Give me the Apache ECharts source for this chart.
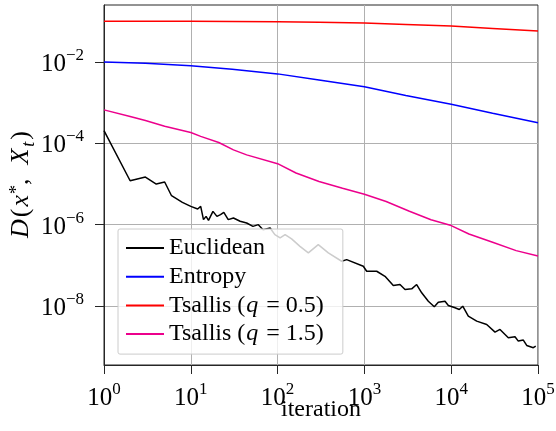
<!DOCTYPE html>
<html><head><meta charset="utf-8">
<script src="https://cdn.jsdelivr.net/npm/echarts@6/dist/echarts.min.js"></script>
<style>html,body{margin:0;padding:0;background:#fff}#c{width:556px;height:431px}</style>
</head><body><div id="c"></div>
<script>
const seriesNames = ['Euclidean', 'Entropy', 'Tsallis (q = 0.5)', 'Tsallis (q = 1.5)'];
const seriesColors = ['#000000', '#0000ff', '#ff0000', '#ec008c'];

const euclidIter = [1,2,3,4,5,6,8,10,12,13,14,15,16,18,20,22,24,27,31,37,44,52,60,68,82,93,107,122,145,181,226,294,384,547,625,971,1062,1386,1727,2153,2570,2937,3508,4000,4571,5450,6386,7100,8487,9270,11060,12400,13580,15740,19670,25650,31980,36490,45500,54330,59290,67750,74130,88300,94200];
const euclidD = [2.06e-4,1.2e-5,1.48e-5,9.97e-6,1.12e-5,5.15e-6,3.53e-6,2.81e-6,2.43e-6,2.81e-6,1.33e-6,1.6e-6,1.28e-6,2.12e-6,1.6e-6,1.76e-6,2.0e-6,1.33e-6,1.46e-6,1.21e-6,1.1e-6,9.08e-7,1.0e-6,7.53e-7,8.3e-7,5.68e-7,4.72e-7,5.68e-7,4.46e-7,2.93e-7,2.02e-7,3.23e-7,2.02e-7,1.26e-7,1.38e-7,9.48e-8,7.15e-8,7.15e-8,5.38e-8,3.18e-8,3.37e-8,2.54e-8,2.64e-8,3.37e-8,2.11e-8,1.31e-8,9.55e-9,1.24e-8,1.31e-8,1.03e-8,9.03e-9,8.21e-9,9.89e-9,5.62e-9,4.24e-9,3.52e-9,2.28e-9,2.65e-9,1.66e-9,1.75e-9,1.37e-9,1.45e-9,1.07e-9,9.42e-10,1.03e-9];

const entropyIter = [1,3,10,30,100,300,1000,3000,10000,30000,100000];
const entropyD = [1.0e-2,9.3e-3,8.1e-3,6.6e-3,5.1e-3,3.6e-3,2.45e-3,1.5e-3,9.1e-4,5.5e-4,3.2e-4];

const tsallis05Iter = [1,3,10,30,100,300,1000,3000,10000,30000,100000];
const tsallis05D = [0.101,0.101,0.1,0.0993,0.0975,0.0944,0.0906,0.0836,0.0764,0.0668,0.0577];

const tsallis15Iter = [1,2,3,5,10,13,21,31,44,100,163,300,560,1000,1780,3300,5850,10000,16000,30000,56000,100000];
const tsallis15D = [6.64e-4,4.57e-4,3.63e-4,2.63e-4,1.84e-4,1.48e-4,1.05e-4,6.9e-5,5.2e-5,3.16e-5,1.86e-5,1.15e-5,7.9e-6,5.6e-6,3.7e-6,2.14e-6,1.32e-6,9.5e-7,5.9e-7,3.7e-7,2.3e-7,1.7e-7];

const xRange = [1, 100000];
const yRange = [3.54e-10, 0.252];
const yTickValues = [1e-8, 1e-6, 1e-4, 1e-2];
const xTickValues = [1, 10, 100, 1000, 10000, 100000];

const FONT = 'Liberation Serif';
const zip = (xs, ys) => xs.map((x, i) => [x, ys[i]]);
const allIters = [euclidIter, entropyIter, tsallis05Iter, tsallis15Iter];
const allD = [euclidD, entropyD, tsallis05D, tsallis15D];

const tickRich = {
  b: { fontFamily: FONT, fontSize: 25, lineHeight: 30, verticalAlign: 'bottom', color: '#000' },
  s: { fontFamily: FONT, fontSize: 17, lineHeight: 18, verticalAlign: 'top', color: '#000' }
};
function powLabel(v) {
  const e = Math.log10(v);
  const r = Math.round(e);
  if (Math.abs(e - r) > 1e-6) return '';
  return '{b|10}{s|' + (r < 0 ? '\u2212' : '') + Math.abs(r) + '}';
}

const chart = echarts.init(document.getElementById('c'), null, { renderer: 'canvas' });
chart.setOption({
  animation: false,
  backgroundColor: '#fff',
  grid: { left: 104, right: 18, top: 5, bottom: 66, containLabel: false, outerBoundsMode: 'none',
          show: true, borderColor: '#262626', borderWidth: 1 },
  xAxis: {
    type: 'log', logBase: 10, min: xRange[0], max: xRange[1],
    name: 'iteration', nameLocation: 'middle', nameGap: 33, nameMoveOverlap: false,
    nameTextStyle: { fontFamily: FONT, fontSize: 24, color: '#000' },
    axisLine: { show: true, lineStyle: { color: '#262626', width: 1 } },
    axisTick: { show: true, inside: false, length: 9, customValues: xTickValues, lineStyle: { color: '#262626' } },
    minorTick: { show: false },
    splitLine: { show: true, lineStyle: { color: '#b0b0b0', width: 1 } },
    axisLabel: { margin: 16, customValues: xTickValues, formatter: v => powLabel(v), rich: tickRich }
  },
  yAxis: {
    type: 'log', logBase: 10, min: yRange[0], max: yRange[1],
    name: '{i|D}{n|(}{ix|x}{sup|*}{n|,  }{i|X}{sub|t}{n|)}',
    nameLocation: 'middle', nameRotate: 90, nameGap: 70, nameMoveOverlap: false,
    nameTextStyle: {
      rich: {
        i: { fontFamily: FONT, fontStyle: 'italic', fontSize: 26, lineHeight: 26, verticalAlign: 'top', padding: [0, 2, 0, 1], color: '#000' },
        ix: { fontFamily: FONT, fontStyle: 'italic', fontSize: 26, lineHeight: 26, verticalAlign: 'top', padding: [0, 1, 0, 2], color: '#000' },
        n: { fontFamily: FONT, fontSize: 26, lineHeight: 26, verticalAlign: 'top', color: '#000' },
        sup: { fontFamily: FONT, fontSize: 18, lineHeight: 10, verticalAlign: 'top', color: '#000' },
        sub: { fontFamily: FONT, fontStyle: 'italic', fontSize: 18, lineHeight: 18, padding: [12, 2, 0, 0], verticalAlign: 'top', color: '#000' }
      }
    },
    axisLine: { show: true, lineStyle: { color: '#262626', width: 1 } },
    axisTick: { show: true, inside: false, length: 9, customValues: yTickValues, lineStyle: { color: '#262626' } },
    minorTick: { show: false },
    splitLine: { show: true, lineStyle: { color: '#b0b0b0', width: 1 } },
    axisLabel: { margin: 20, customValues: yTickValues, formatter: v => powLabel(v), rich: tickRich }
  },
  legend: {
    orient: 'vertical', left: 118, top: 229,
    data: seriesNames,
    itemWidth: 38, itemHeight: 14, itemGap: 4.7,
    padding: [7, 19, 8, 7],
    backgroundColor: 'rgba(255,255,255,0.8)',
    borderColor: '#cccccc', borderWidth: 1, borderRadius: 2,
    itemStyle: { opacity: 0 },
    formatter: function (name) {
      const m = name.match(/^(.*)\(q = ([\d.]+)\)$/);
      if (m) return '{t|' + m[1] + '(}{i|q}{t| = ' + m[2] + ')}';
      return '{t|' + name + '}';
    },
    textStyle: {
      fontFamily: FONT, fontSize: 24, lineHeight: 24, color: '#000',
      rich: {
        t: { fontFamily: FONT, fontSize: 24, lineHeight: 24, color: '#000' },
        i: { fontFamily: FONT, fontStyle: 'italic', fontSize: 24, lineHeight: 24, padding: [0, 2, 0, 1], color: '#000' }
      }
    }
  },
  series: seriesNames.map((name, k) => ({
    name: name, type: 'line', symbol: 'none', showSymbol: false,
    data: zip(allIters[k], allD[k]),
    lineStyle: { color: seriesColors[k], width: 1.5 },
    itemStyle: { color: seriesColors[k] },
    z: 2
  }))
});
</script></body></html>
